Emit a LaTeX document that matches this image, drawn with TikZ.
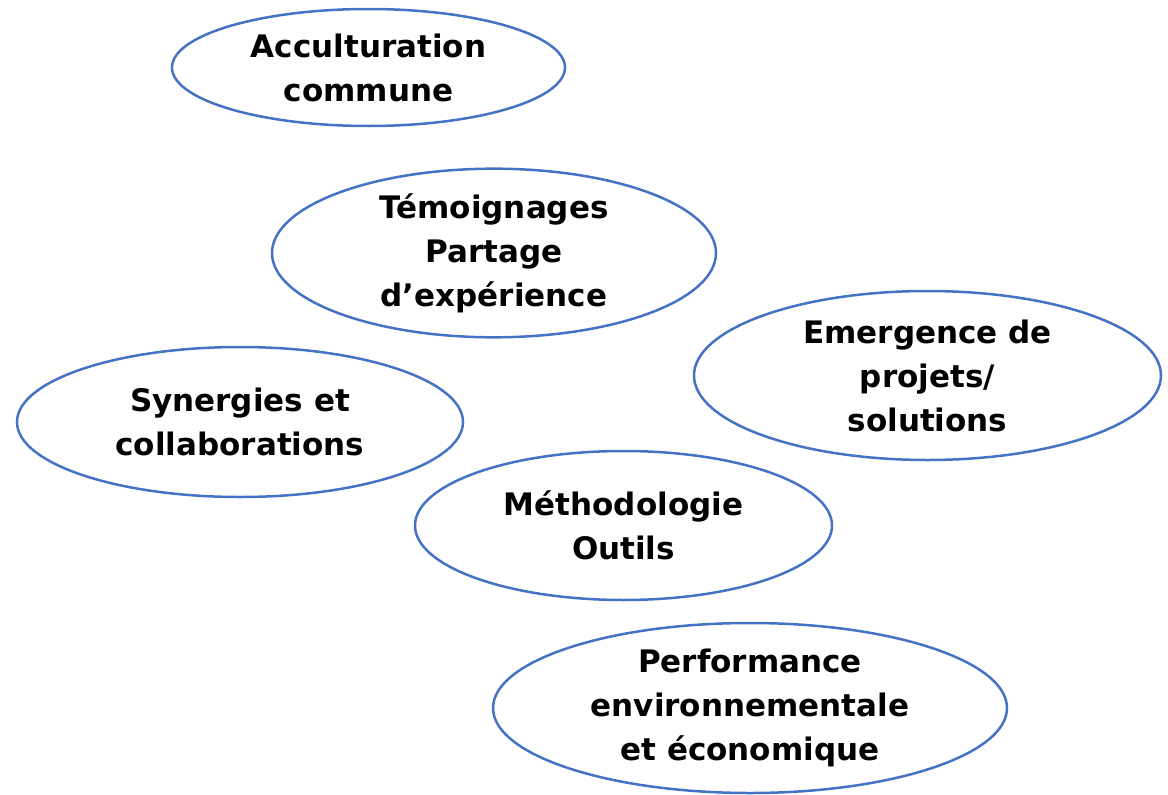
\documentclass[tikz,border=0pt]{standalone}
\usepackage{fontspec}
\setmainfont{DejaVu Sans}
\usepackage{tikz}
\usetikzlibrary{shapes.geometric}
\usetikzlibrary{positioning}
\definecolor{bubbleblue}{HTML}{4472C4}
\tikzstyle{bubble} = [ellipse, draw=bubbleblue, line width=2.5pt, inner sep=0pt,
text centered, align=center, font=\fontsize{31}{44}\selectfont\bfseries]

\begin{document}
\begin{tikzpicture} [x=1pt, y=-1pt, on grid]
    \useasboundingbox (0,0) rectangle (1168,795);
    \node (accult) [bubble, minimum width=393pt, minimum height=117pt] at (368.5,67.5) {Acculturation\\commune};
    \node (temoin) [bubble, minimum width=444pt, minimum height=164pt, below right=185.5pt and 125.5pt of accult] {Témoignages\\Partage\\d’expérience};
    \node (emerg) [bubble, minimum width=467pt, minimum height=169pt, below right=122.5pt and 433.5pt of temoin] {Emergence de\\projets/\\solutions};
    \node (synerg) [bubble, minimum width=446pt, minimum height=150pt, below left=169pt and 254pt of temoin] {Synergies et\\collaborations};
    \node (methodo) [bubble, minimum width=417pt, minimum height=149pt, below right=103.5pt and 383.5pt of synerg] {Méthodologie\\Outils};
    \node (perf) [bubble, minimum width=514pt, minimum height=170pt, below right=182.5pt and 126.5pt of methodo] {Performance\\environnementale\\et économique};
\end{tikzpicture}
\end{document}
